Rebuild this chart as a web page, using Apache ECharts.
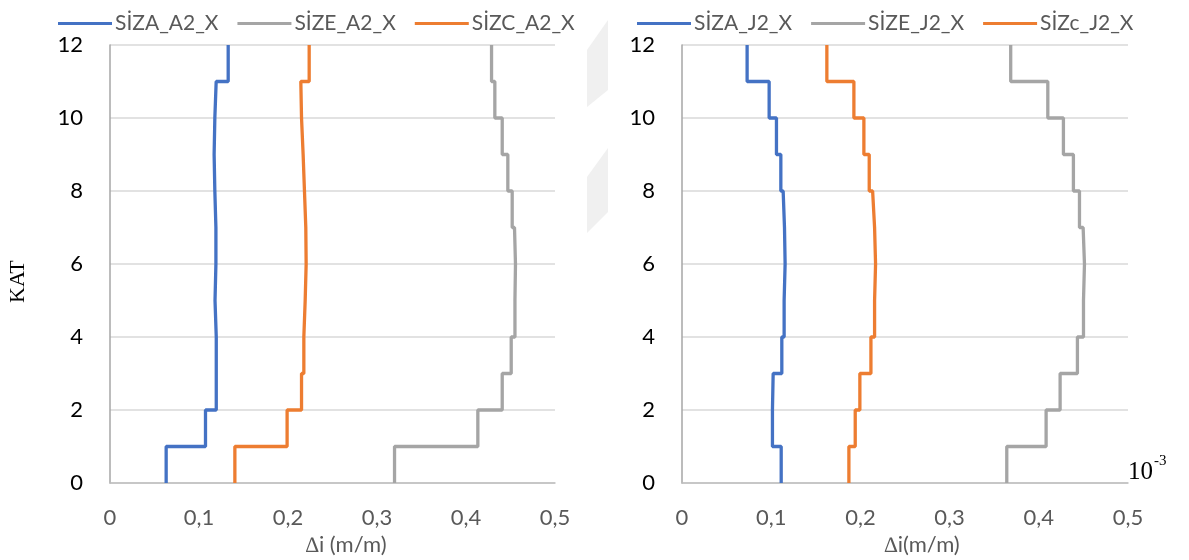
<!DOCTYPE html>
<html>
<head>
<meta charset="utf-8">
<script src="https://cdn.jsdelivr.net/npm/echarts@6/dist/echarts.min.js"></script>
<style>html,body{margin:0;padding:0;background:#fff}#c{width:1189px;height:560px}</style>
</head>
<body>
<div id="c"></div>
<script>
// storey intervals 0-1 ... 11-12 (bottom to top)
const storeys = [0,1,2,3,4,5,6,7,8,9,10,11,12];
const yTicks = [0,2,4,6,8,10,12];
const xTicks = ['0','0,1','0,2','0,3','0,4','0,5'];

const namesA2 = ['SİZA_A2_X','SİZE_A2_X','SİZC_A2_X'];
const sizaA2 = [0.0631, 0.1073, 0.1194, 0.1194, 0.1180, 0.1190, 0.1190, 0.1178, 0.1170, 0.1178, 0.1193, 0.1328];
const sizeA2 = [0.3197, 0.4133, 0.4407, 0.4508, 0.4550, 0.4556, 0.4545, 0.4519, 0.4470, 0.4407, 0.4324, 0.4287];
const sizcA2 = [0.1403, 0.1990, 0.2152, 0.2178, 0.2193, 0.2204, 0.2200, 0.2185, 0.2170, 0.2152, 0.2144, 0.2238];

const namesJ2 = ['SİZA_J2_X','SİZE_J2_X','SİZc_J2_X'];
const sizaJ2 = [0.1112, 0.1014, 0.1022, 0.1119, 0.1145, 0.1156, 0.1149, 0.1134, 0.1108, 0.1059, 0.0977, 0.0730];
const sizeJ2 = [0.3641, 0.4082, 0.4239, 0.4433, 0.4501, 0.4512, 0.4497, 0.4456, 0.4388, 0.4276, 0.4101, 0.3685];
const sizcJ2 = [0.1871, 0.1942, 0.1994, 0.2118, 0.2159, 0.2170, 0.2159, 0.2137, 0.2099, 0.2039, 0.1927, 0.1624];

const colors = ['#4472C4', '#A5A5A5', '#ED7D31'];

function profile(vals) {
  const pts = [];
  for (let k = 0; k < vals.length; k++) {
    pts.push([vals[k], storeys[k]]);
    pts.push([vals[k], storeys[k + 1]]);
  }
  return pts;
}

const chart = echarts.init(document.getElementById('c'), null, {renderer: 'canvas'});
const sansFont = 'Lato';

function xAxis(idx) {
  return {
    gridIndex: idx, type: 'value', min: 0, max: 0.5, interval: 0.1,
    axisLine: {show: true, lineStyle: {color: '#BFBFBF', width: 1.5}},
    axisTick: {show: false},
    splitLine: {show: false},
    axisLabel: {
      color: '#595959', fontFamily: sansFont, fontSize: 22, margin: 24,
      formatter: v => xTicks[Math.round(v * 10)]
    }
  };
}
function yAxis(idx) {
  return {
    gridIndex: idx, type: 'value', min: 0, max: 12, interval: 2,
    axisLine: {show: true, lineStyle: {color: '#A6A6A6', width: 1.5}},
    axisTick: {show: false},
    splitLine: {show: true, lineStyle: {color: '#D9D9D9', width: 1.5}},
    axisLabel: {
      color: '#000', fontFamily: sansFont, fontSize: 22, margin: 27,
      formatter: v => (yTicks.indexOf(v) >= 0 ? String(v) : '')
    }
  };
}
function series(name, vals, color, idx) {
  return {
    name: name, type: 'line', xAxisIndex: idx, yAxisIndex: idx,
    data: profile(vals), showSymbol: false, symbol: 'none',
    lineStyle: {color: color, width: 3.3}, itemStyle: {color: color},
    animation: false
  };
}
function legend(names, left) {
  return {
    data: names, left: left, top: 8, icon: 'rect', itemWidth: 54, itemHeight: 3,
    itemGap: 19,
    textStyle: {color: '#595959', fontFamily: sansFont, fontSize: 21, padding: [0, 0, 0, -2]}
  };
}

chart.setOption({
  animation: false,
  backgroundColor: '#fff',
  grid: [
    {left: 110, right: 634, top: 45, bottom: 77},
    {left: 682, right: 61, top: 45, bottom: 77}
  ],
  xAxis: [xAxis(0), xAxis(1)],
  yAxis: [yAxis(0), yAxis(1)],
  legend: [legend(namesA2, 53), legend(namesJ2, 632)],
  series: [
    series(namesA2[0], sizaA2, colors[0], 0),
    series(namesA2[1], sizeA2, colors[1], 0),
    series(namesA2[2], sizcA2, colors[2], 0),
    series(namesJ2[0], sizaJ2, colors[0], 1),
    series(namesJ2[1], sizeJ2, colors[1], 1),
    series(namesJ2[2], sizcJ2, colors[2], 1)
  ],
  graphic: [
    {type: 'polygon', shape: {points: [[587, 50], [608, 20], [608, 90], [587, 107]]}, style: {fill: '#F0F0F0'}, silent: true},
    {type: 'polygon', shape: {points: [[587, 177], [608, 148], [608, 212], [587, 233]]}, style: {fill: '#F0F0F0'}, silent: true},
    {type: 'text', x: 7, y: 303, rotation: Math.PI / 2,
      style: {text: 'KAT', fill: '#000', fontSize: 22, fontFamily: 'Liberation Serif'}},
    {type: 'text', x: 346, y: 545,
      style: {text: '∆i (m/m)', fill: '#595959', fontSize: 22, fontFamily: 'Lato', textAlign: 'center', textVerticalAlign: 'middle'}},
    {type: 'text', x: 922, y: 545,
      style: {text: '∆i(m/m)', fill: '#595959', fontSize: 22, fontFamily: 'Lato', textAlign: 'center', textVerticalAlign: 'middle'}},
    {type: 'text', x: 1128, y: 472,
      style: {text: '10', fill: '#000', fontSize: 25, fontFamily: 'Liberation Serif', textVerticalAlign: 'middle'}},
    {type: 'text', x: 1154, y: 461,
      style: {text: '-3', fill: '#000', fontSize: 15, fontFamily: 'Liberation Serif', textVerticalAlign: 'middle'}}
  ]
});
</script>
</body>
</html>
